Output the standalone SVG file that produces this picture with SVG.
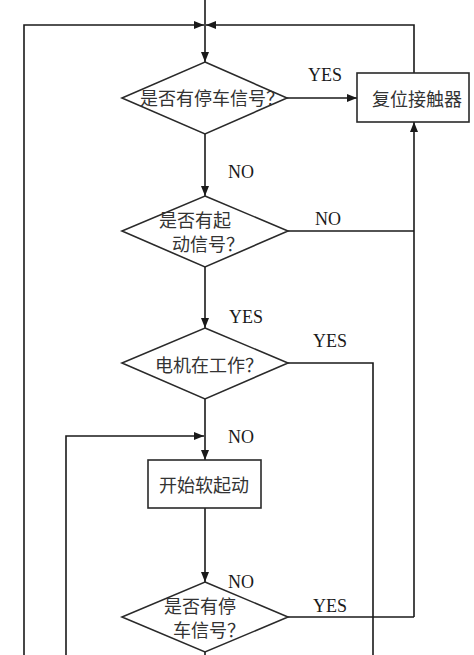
<svg xmlns="http://www.w3.org/2000/svg" width="474" height="655" viewBox="0 0 474 655">
<defs>
<marker id="ah" viewBox="0 0 10 8" refX="10" refY="4" markerWidth="10" markerHeight="8" markerUnits="userSpaceOnUse" orient="auto">
<path d="M0,0 L10,4 L0,8 Z" fill="#1a1a1a"/>
</marker>
</defs>
<style>
.shape{fill:#fff;stroke:#2a2a2a;stroke-width:1.6}
.ln{fill:none;stroke:#1a1a1a;stroke-width:1.6}
.cj{font-family:"Noto Sans CJK SC","Noto Sans",sans-serif;font-size:18px;fill:#333}
.lb{font-family:"Liberation Serif",serif;font-size:18px;fill:#1a1a1a}
</style>
<rect width="474" height="655" fill="#fff"/>
<g id="connectors">
<path class="ln" d="M205,0 L205,62" marker-end="url(#ah)"/>
<path class="ln" d="M24,655 L24,25 L204,25" marker-end="url(#ah)"/>
<path class="ln" d="M414,73 L414,25 L206,25" marker-end="url(#ah)"/>
<path class="ln" d="M287,98 L357,98" marker-end="url(#ah)"/>
<path class="ln" d="M205,134 L205,196" marker-end="url(#ah)"/>
<path class="ln" d="M288,231 L414,231"/>
<path class="ln" d="M414,617 L414,122" marker-end="url(#ah)"/>
<path class="ln" d="M288,617 L414,617"/>
<path class="ln" d="M205,267 L205,328" marker-end="url(#ah)"/>
<path class="ln" d="M288,363 L373,363 L373,655"/>
<path class="ln" d="M205,399 L205,460" marker-end="url(#ah)"/>
<path class="ln" d="M66,655 L66,436 L204,436" marker-end="url(#ah)"/>
<path class="ln" d="M205,508 L205,582" marker-end="url(#ah)"/>
<path class="ln" d="M205,652 L205,655"/>
<text class="lb" x="308" y="81">YES</text>
<text class="lb" x="228" y="178">NO</text>
<text class="lb" x="315" y="225">NO</text>
<text class="lb" x="229" y="323">YES</text>
<text class="lb" x="313" y="347">YES</text>
<text class="lb" x="228" y="443">NO</text>
<text class="lb" x="228" y="588">NO</text>
<text class="lb" x="313" y="612">YES</text>
</g>
<g id="d1">
<polygon class="shape" points="205,62 287,98 205,134 122,98"/>
<text class="cj" x="140" y="105">是否有停车信号？</text>
</g>
<g id="reset">
<rect class="shape" x="357" y="73" width="112" height="49"/>
<text class="cj" x="372" y="106">复位接触器</text>
</g>
<g id="d2">
<polygon class="shape" points="205,196 288,231 205,267 122,231"/>
<text class="cj"><tspan x="159" y="227">是否有起</tspan><tspan x="172" y="251">动信号？</tspan></text>
</g>
<g id="d3">
<polygon class="shape" points="205,328 288,363 205,399 122,363"/>
<text class="cj" x="155" y="372">电机在工作？</text>
</g>
<g id="soft">
<rect class="shape" x="148" y="460" width="113" height="48"/>
<text class="cj" x="159" y="492">开始软起动</text>
</g>
<g id="d4">
<polygon class="shape" points="205,582 288,617 205,652 122,617"/>
<text class="cj"><tspan x="164" y="613">是否有停</tspan><tspan x="173" y="637">车信号？</tspan></text>
</g>
</svg>
